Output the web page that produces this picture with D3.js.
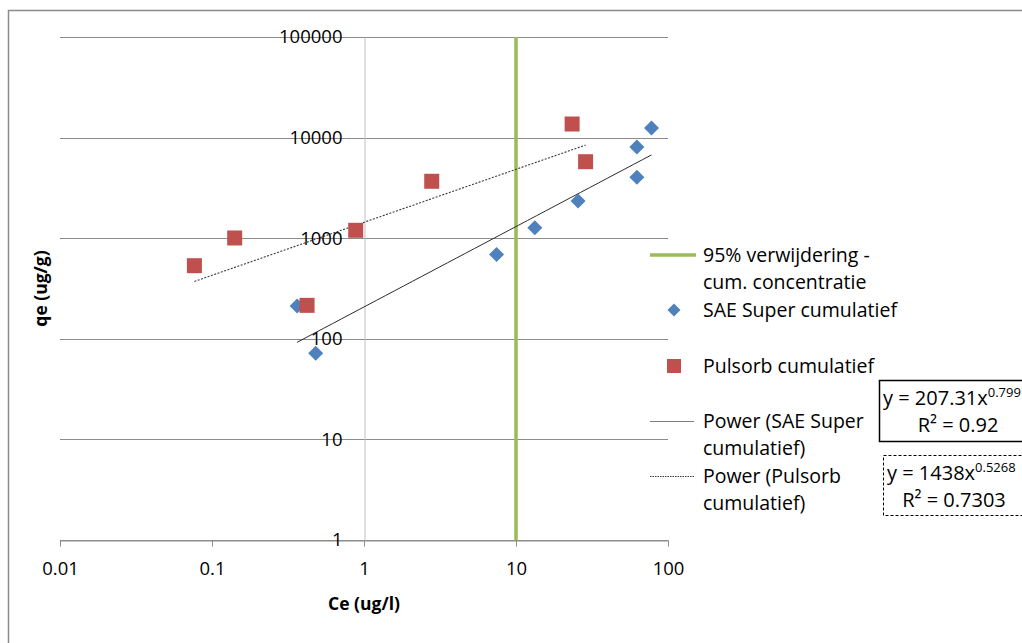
<!DOCTYPE html>
<html>
<head>
<meta charset="utf-8">
<script src="https://cdn.jsdelivr.net/npm/d3@7"></script>
<style>
  html, body { margin: 0; padding: 0; background: #fff; }
  svg { display: block; font-family: "Open Sans", "Liberation Sans", sans-serif; }
</style>
</head>
<body>
<svg id="chart" width="1022" height="643"></svg>
<script>
// Adsorption data: equilibrium concentration Ce (ug/l) vs loading qe (ug/g)
const saeCe = [0.363, 0.481, 7.45, 13.3, 25.6, 62.4, 62.4, 77.9];
const saeQe = [212, 72, 690, 1270, 2340, 4030, 8070, 12450];
const pulCe = [0.0766, 0.141, 0.422, 0.882, 2.79, 23.4, 28.7];
const pulQe = [533, 1005, 215, 1198, 3680, 13650, 5760];

// Power-law fits y = a * x^b
const saeFit = { a: 207.31, b: 0.799, r2: "0.92" };
const pulFit = { a: 1438, b: 0.5268, r2: "0.7303" };

// 95% removal threshold (cumulative concentration)
const thresholdCe = 10;

const xTicks = [0.01, 0.1, 1, 10, 100];
const yTicks = [1, 10, 100, 1000, 10000, 100000];

const legendItems = [
  { type: "green", lines: ["95% verwijdering -", "cum. concentratie"] },
  { type: "diamond", lines: ["SAE Super cumulatief"] },
  { type: "square", lines: ["Pulsorb cumulatief"] },
  { type: "solid", lines: ["Power (SAE Super", "cumulatief)"] },
  { type: "dotted", lines: ["Power (Pulsorb", "cumulatief)"] }
];

const blue = "#4F81BD", red = "#C0504D", green = "#9BBB59";

const svg = d3.select("#chart");

// outer chart frame
svg.append("rect")
  .attr("x", 8.5).attr("y", 10.5).attr("width", 1100).attr("height", 700)
  .attr("fill", "none").attr("stroke", "#8a8a8a").attr("stroke-width", 1.5);

const x = d3.scaleLog().domain([0.01, 100]).range([60, 668]);
const y = d3.scaleLog().domain([1, 100000]).range([540, 37]);

// horizontal gridlines
svg.append("g").selectAll("line").data(yTicks).join("line")
  .attr("x1", x(0.01)).attr("x2", x(100))
  .attr("y1", d => Math.round(y(d)) + 0.5).attr("y2", d => Math.round(y(d)) + 0.5)
  .attr("stroke", "#8c8c8c").attr("stroke-width", 1);

// x axis
svg.append("g")
  .attr("transform", `translate(0,${Math.round(y(1)) + 0.5})`)
  .call(d3.axisBottom(x).tickValues(xTicks).tickFormat(d => String(d)).tickSize(6).tickSizeOuter(0))
  .call(g => g.select(".domain").attr("stroke", "#8c8c8c"))
  .call(g => g.selectAll(".tick line").attr("stroke", "#8c8c8c"))
  .call(g => g.selectAll(".tick text")
    .attr("font-size", 18.5).attr("fill", "#000").attr("dy", "1.4em")
    .attr("font-family", "Open Sans, sans-serif"));

// y axis, crossing at x = 1
svg.append("g")
  .attr("transform", `translate(${Math.round(x(1)) + 0.5},0)`)
  .call(d3.axisLeft(y).tickValues(yTicks).tickFormat(d => String(d)).tickSize(0).tickPadding(22).tickSizeOuter(0))
  .call(g => g.select(".domain").attr("stroke", "#c0c0c0"))
  .call(g => g.selectAll(".tick text")
    .attr("font-size", 18.5).attr("fill", "#000")
    .attr("font-family", "Open Sans, sans-serif"));

// threshold line
svg.append("line")
  .attr("x1", x(thresholdCe)).attr("x2", x(thresholdCe))
  .attr("y1", y(100000)).attr("y2", y(1))
  .attr("stroke", green).attr("stroke-width", 3.5);

// power trendlines over the data range
function fitPath(fit, ce) {
  const [lo, hi] = d3.extent(ce);
  const pts = d3.range(0, 41).map(i => {
    const xv = Math.pow(10, Math.log10(lo) + (Math.log10(hi) - Math.log10(lo)) * i / 40);
    return [x(xv), y(fit.a * Math.pow(xv, fit.b))];
  });
  return d3.line()(pts);
}
svg.append("path").attr("d", fitPath(saeFit, saeCe))
  .attr("fill", "none").attr("stroke", "#2b2b2b").attr("stroke-width", 1);
svg.append("path").attr("d", fitPath(pulFit, pulCe))
  .attr("fill", "none").attr("stroke", "#3a3a3a").attr("stroke-width", 1.1)
  .attr("stroke-dasharray", "2,1.5");

// markers
const diamond = s => `M0,${-s}L${s},0L0,${s}L${-s},0Z`;
svg.append("g").selectAll("path").data(saeCe.map((c, i) => [c, saeQe[i]])).join("path")
  .attr("d", diamond(7.5))
  .attr("transform", d => `translate(${x(d[0])},${y(d[1])})`)
  .attr("fill", blue);
svg.append("g").selectAll("rect").data(pulCe.map((c, i) => [c, pulQe[i]])).join("rect")
  .attr("x", d => x(d[0]) - 7.5).attr("y", d => y(d[1]) - 7.5)
  .attr("width", 15).attr("height", 15)
  .attr("fill", red);

// axis titles
svg.append("text").attr("x", x(1)).attr("y", 610)
  .attr("text-anchor", "middle").attr("font-size", 17.5).attr("font-weight", "bold")
  .text("Ce (ug/l)");
svg.append("text")
  .attr("transform", `translate(47,${(y(1) + y(100000)) / 2}) rotate(-90)`)
  .attr("text-anchor", "middle").attr("font-size", 17.5).attr("font-weight", "bold")
  .text("qe (ug/g)");

// legend
const legendRows = [255, 310, 366, 421, 476];
const lg = svg.append("g").attr("font-size", 19.5).attr("fill", "#000");
legendItems.forEach((item, i) => {
  const cy = legendRows[i];
  if (item.type === "green") {
    lg.append("line").attr("x1", 650).attr("x2", 696).attr("y1", cy).attr("y2", cy)
      .attr("stroke", green).attr("stroke-width", 3.5);
  } else if (item.type === "diamond") {
    lg.append("path").attr("d", diamond(6.5)).attr("transform", `translate(674,${cy})`).attr("fill", blue);
  } else if (item.type === "square") {
    lg.append("rect").attr("x", 667).attr("y", cy - 7).attr("width", 14).attr("height", 14).attr("fill", red);
  } else if (item.type === "solid") {
    lg.append("line").attr("x1", 650).attr("x2", 694).attr("y1", cy + 0.5).attr("y2", cy + 0.5)
      .attr("stroke", "#7f7f7f").attr("stroke-width", 1.2);
  } else {
    lg.append("line").attr("x1", 650).attr("x2", 694).attr("y1", cy + 0.5).attr("y2", cy + 0.5)
      .attr("stroke", "#3a3a3a").attr("stroke-width", 1).attr("stroke-dasharray", "1.5,1");
  }
  item.lines.forEach((t, j) => {
    lg.append("text").attr("x", 703).attr("y", cy + j * 27).attr("dy", "0.35em").text(t);
  });
});

// fit equation boxes
function eqBox(fit, bx, by, w, h, dashed, rCenter) {
  const g = svg.append("g");
  g.append("rect").attr("x", bx + 0.5).attr("y", by + 0.5).attr("width", w).attr("height", h)
    .attr("fill", "#fff").attr("stroke", "#000").attr("stroke-width", dashed ? 1 : 1.5)
    .attr("stroke-dasharray", dashed ? "3,2" : null);
  const t = g.append("text").attr("x", bx + 4).attr("y", by + 25).attr("font-size", 20);
  t.append("tspan").text(`y = ${fit.a}x`);
  t.append("tspan").attr("dy", -8).attr("font-size", 13).text(String(fit.b));
  g.append("text").attr("x", rCenter).attr("y", by + 52).attr("font-size", 20)
    .attr("text-anchor", "middle").text(`R² = ${fit.r2}`);
}
eqBox(saeFit, 879, 380, 170, 61, false, 958);
eqBox(pulFit, 883, 455, 170, 60, true, 954);
</script>
</body>
</html>
